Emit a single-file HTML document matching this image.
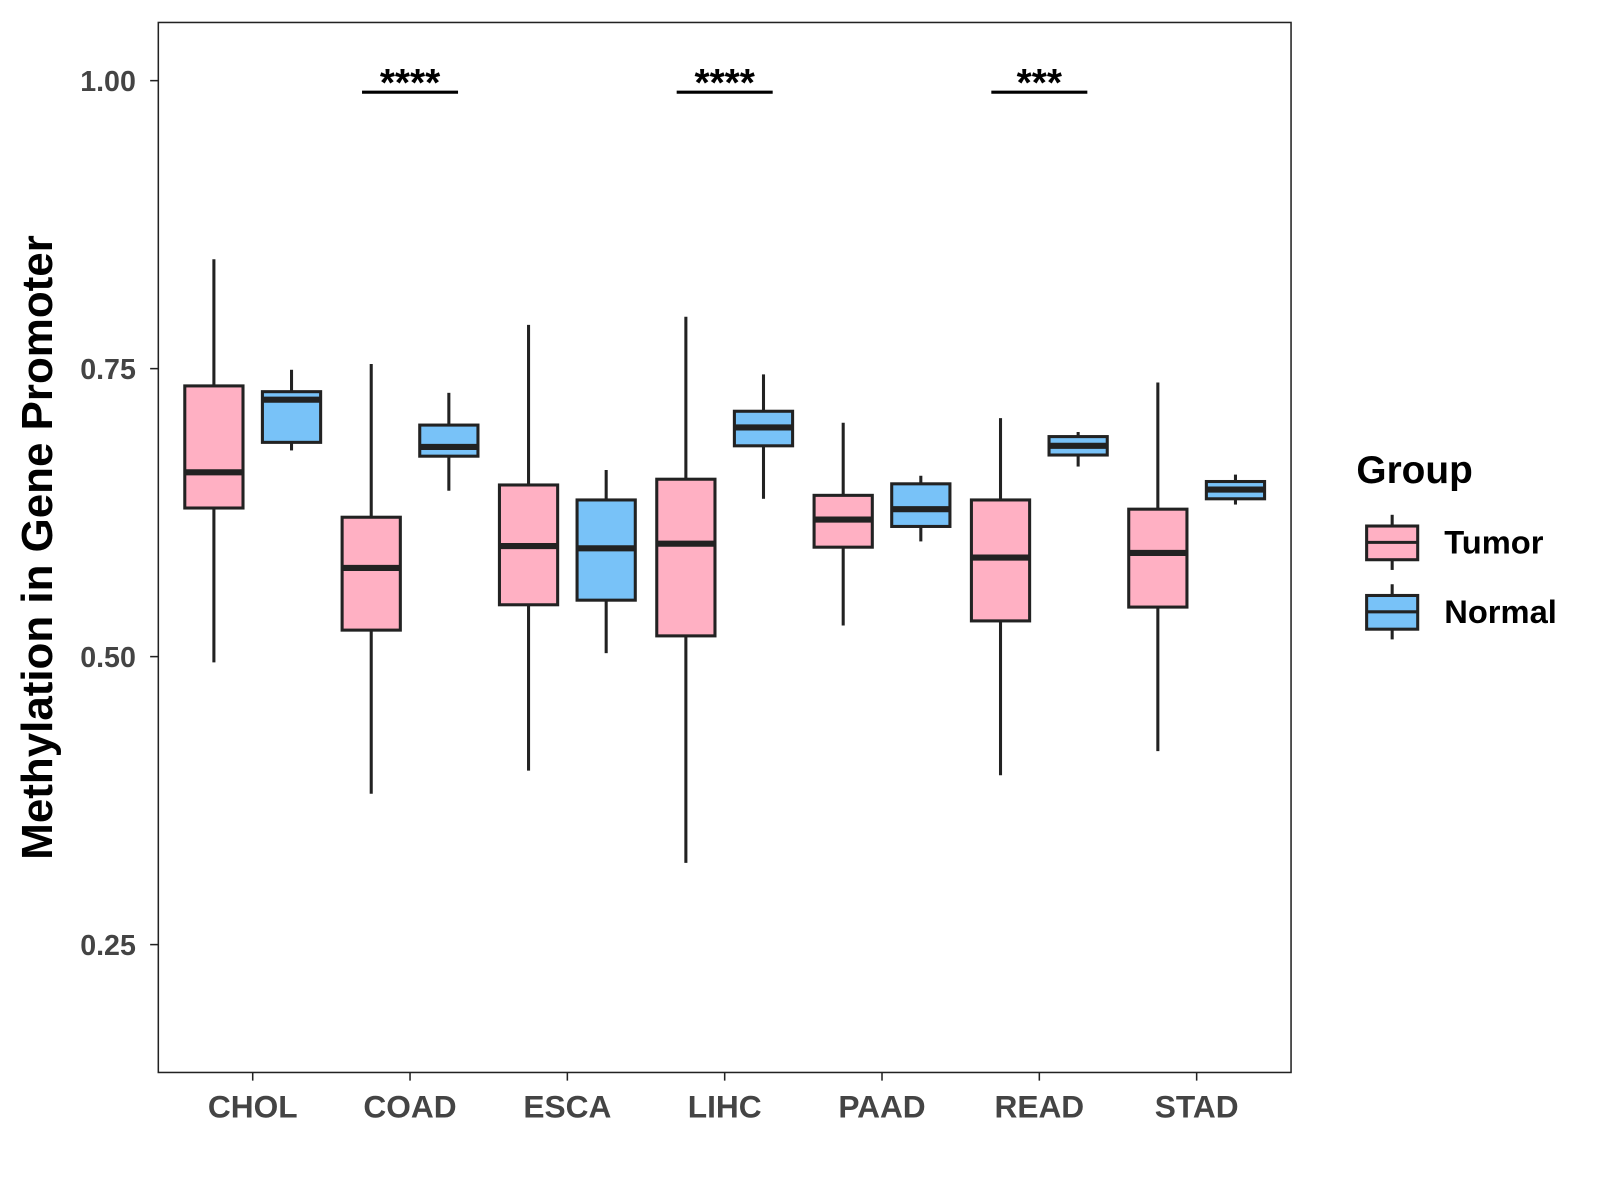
<!DOCTYPE html>
<html><head><meta charset="utf-8"><style>
body{margin:0;background:#fff;}
svg{display:block;font-family:"Liberation Sans",Arial,sans-serif;}
</style></head><body>
<svg width="1600" height="1200" viewBox="0 0 1600 1200"><g id="chart" transform="scale(1.0214)"></g></svg>
<script>
const categories=["CHOL","COAD","ESCA","LIHC","PAAD","READ","STAD"];
// [min, q1, median, q3, max]
const tumorStats=[[0.495,0.629,0.660,0.735,0.845],[0.381,0.523,0.577,0.621,0.754],[0.401,0.545,0.596,0.649,0.788],[0.321,0.518,0.598,0.654,0.795],[0.527,0.595,0.619,0.640,0.703],[0.397,0.531,0.586,0.636,0.707],[0.418,0.543,0.590,0.628,0.738]];
const normalStats=[[0.679,0.686,0.723,0.730,0.749],[0.644,0.674,0.682,0.701,0.729],[0.503,0.549,0.594,0.636,0.662],[0.637,0.683,0.699,0.713,0.745],[0.600,0.613,0.628,0.650,0.657],[0.665,0.675,0.683,0.691,0.695],[0.632,0.637,0.645,0.652,0.658]];
const yTicks=[0.25,0.50,0.75,1.00];
const yTickLabels=["0.25","0.50","0.75","1.00"];
const sigCategories=["COAD","LIHC","READ"];
const sigLabels=["****","****","***"];
const sigLevel=0.99;

const svg=document.getElementById('chart');
const NS="http://www.w3.org/2000/svg";
const P={l:155,r:1264,t:22,b:1050};
const yMin=0.139,yMax=1.0505;
function y(v){return P.b-(v-yMin)/(yMax-yMin)*(P.b-P.t);}
const step=(P.r-P.l)/(categories.length-1+1.2);
function x(i){return P.l+step*(i+0.6);}
function mk(tag,attrs,parent){const e=document.createElementNS(NS,tag);for(const k in attrs)e.setAttribute(k,attrs[k]);(parent||svg).appendChild(e);return e;}

const panel=mk('rect',{x:P.l,y:P.t,width:P.r-P.l,height:P.b-P.t,fill:'#fff',stroke:'#222','stroke-width':1.5});



yTicks.forEach((t,i)=>{
  const tk=mk('line',{x1:P.l-8,x2:P.l,y1:y(t),y2:y(t),stroke:'#222','stroke-width':1.5});
  
  
  const tl=mk('text',{x:P.l-22,y:y(t)+10,'text-anchor':'end','font-size':28,'font-weight':'bold',fill:'#444'});
  tl.textContent=yTickLabels[i];
  
  
});
categories.forEach((c,i)=>{
  const tk=mk('line',{x1:x(i),x2:x(i),y1:P.b,y2:P.b+8,stroke:'#222','stroke-width':1.5});
  
  
  const tl=mk('text',{x:x(i),y:P.b+44,'text-anchor':'middle','font-size':31,'font-weight':'bold',fill:'#444'});
  tl.textContent=c;
  
  
});
const yt=mk('text',{x:51,y:536,'text-anchor':'middle','font-size':43,'font-weight':'bold',fill:'#000',transform:'rotate(-90 51 536)'});
yt.textContent='Methylation in Gene Promoter';



function box(cx,s,fill,name){
  const g=mk('g',{});
  
  
  const w=57;
  mk('line',{x1:cx,x2:cx,y1:y(s[4]),y2:y(s[3]),stroke:'#222','stroke-width':3},g);
  mk('line',{x1:cx,x2:cx,y1:y(s[1]),y2:y(s[0]),stroke:'#222','stroke-width':3},g);
  mk('rect',{x:cx-w/2,y:y(s[3]),width:w,height:y(s[1])-y(s[3]),fill:fill,stroke:'#222','stroke-width':3},g);
  mk('line',{x1:cx-w/2,x2:cx+w/2,y1:y(s[2]),y2:y(s[2]),stroke:'#222','stroke-width':6},g);
}
categories.forEach((c,i)=>{
  box(x(i)-38,tumorStats[i],'#FFB0C3','box-tumor-'+c.toLowerCase());
  box(x(i)+38,normalStats[i],'#78C2F8','box-normal-'+c.toLowerCase());
});
sigCategories.forEach((c,k)=>{
  const i=categories.indexOf(c);
  const l=mk('line',{x1:x(i)-47,x2:x(i)+47,y1:y(sigLevel),y2:y(sigLevel),stroke:'#000','stroke-width':3});
  
  
  const t=mk('text',{x:x(i),y:y(sigLevel)+4,'text-anchor':'middle','font-size':38,'font-weight':'bold',fill:'#000'});
  t.textContent=sigLabels[k];
  
  
});
const lg=mk('g',{});


const lt=mk('text',{x:1328,y:473,'font-size':38,'font-weight':'bold',fill:'#000'},lg);
lt.textContent='Group';
[['Tumor','#FFB0C3',531],['Normal','#78C2F8',599]].forEach(([n,f,cy])=>{
  const e=mk('g',{},lg);
  
  
  mk('line',{x1:1363,x2:1363,y1:cy-27,y2:cy+27,stroke:'#222','stroke-width':3},e);
  mk('rect',{x:1338,y:cy-16,width:50,height:33,fill:f,stroke:'#222','stroke-width':3},e);
  mk('line',{x1:1338,x2:1388,y1:cy,y2:cy,stroke:'#222','stroke-width':3},e);
  const t=mk('text',{x:1414,y:cy+11,'font-size':32,'font-weight':'bold',fill:'#000'},e);
  t.textContent=n;
});
</script>
</body></html>
